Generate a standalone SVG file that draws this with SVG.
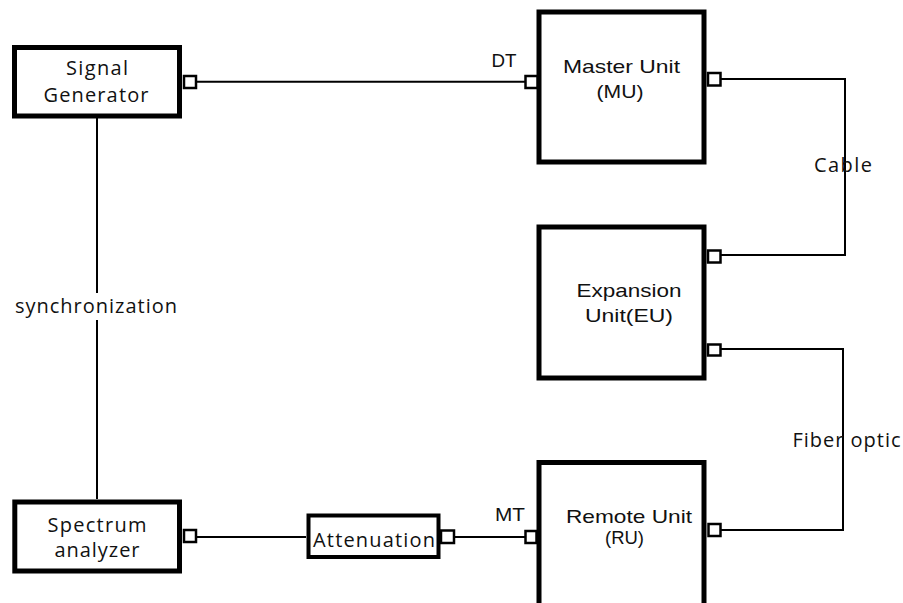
<svg xmlns="http://www.w3.org/2000/svg" width="903" height="603" viewBox="0 0 903 603">
<style>
.box{fill:#fff;stroke:#000;stroke-width:5}
.att{fill:#fff;stroke:#000;stroke-width:4}
.port{fill:#fff;stroke:#000;stroke-width:2.5}
.wire{fill:none;stroke:#000;stroke-width:2}
.c{font-family:"Open Sans","Liberation Sans",sans-serif;font-size:20px;fill:#111}
.a{font-family:"Liberation Sans",Arial,sans-serif;font-size:18.5px;fill:#111}
</style>
<rect width="903" height="603" fill="#fff"/>
<g id="connectors">
<path class="wire" d="M196 81.7H525"/>
<path class="wire" d="M720 79H845V255H721"/>
<path class="wire" d="M721 349H843V530H721"/>
<path class="wire" d="M97 118V293M97 320V499"/>
<path class="wire" d="M196 537H306"/>
<path class="wire" d="M455 537H525"/>
</g>
<g id="signal-generator">
<rect class="box" x="14.5" y="47.5" width="165" height="68.5"/>
<rect class="port" x="184" y="76" width="12" height="12"/>
<text class="c" x="97" y="75" text-anchor="middle" textLength="62" lengthAdjust="spacing">Signal</text>
<text class="c" x="96" y="101.5" text-anchor="middle" textLength="105" lengthAdjust="spacing">Generator</text>
</g>
<g id="master-unit">
<rect class="box" x="539" y="12" width="165" height="150"/>
<rect class="port" x="525.5" y="76" width="12" height="12"/>
<rect class="port" x="708" y="73" width="12.5" height="12.5"/>
<text class="a" x="621.5" y="73" text-anchor="middle" textLength="117" lengthAdjust="spacingAndGlyphs">Master Unit</text>
<text class="a" x="620" y="98.3" text-anchor="middle" textLength="47" lengthAdjust="spacingAndGlyphs">(MU)</text>
</g>
<g id="expansion-unit">
<rect class="box" x="539" y="227" width="165" height="151"/>
<rect class="port" x="708" y="250.5" width="12.5" height="12"/>
<rect class="port" x="708" y="344.5" width="12.5" height="11"/>
<text class="a" x="629" y="296.7" text-anchor="middle" textLength="105" lengthAdjust="spacingAndGlyphs">Expansion</text>
<text class="a" x="629" y="321.7" text-anchor="middle" textLength="88" lengthAdjust="spacingAndGlyphs">Unit(EU)</text>
</g>
<g id="remote-unit">
<rect class="box" x="539" y="462.5" width="165" height="150"/>
<rect class="port" x="525.5" y="531" width="11" height="12"/>
<rect class="port" x="708.5" y="524" width="12" height="12"/>
<text class="a" x="629" y="522.7" text-anchor="middle" textLength="126" lengthAdjust="spacingAndGlyphs">Remote Unit</text>
<text class="a" x="624.5" y="544.3" text-anchor="middle" textLength="39" lengthAdjust="spacingAndGlyphs">(RU)</text>
</g>
<g id="spectrum-analyzer">
<rect class="box" x="14.8" y="502" width="164.7" height="69"/>
<rect class="port" x="184" y="530" width="12" height="12"/>
<text class="c" x="97" y="531.7" text-anchor="middle" textLength="99" lengthAdjust="spacing">Spectrum</text>
<text class="c" x="97" y="556.7" text-anchor="middle" textLength="85" lengthAdjust="spacing">analyzer</text>
</g>
<g id="attenuation">
<rect class="att" x="308.5" y="515.5" width="130" height="41.5"/>
<rect class="port" x="441" y="530.5" width="13" height="12.5"/>
<text class="c" x="374" y="546.7" text-anchor="middle" textLength="122" lengthAdjust="spacing">Attenuation</text>
</g>
<g id="labels">
<text class="a" x="504" y="66.7" text-anchor="middle" textLength="25" lengthAdjust="spacingAndGlyphs">DT</text>
<text class="a" x="510" y="521" text-anchor="middle" textLength="30" lengthAdjust="spacingAndGlyphs">MT</text>
<text class="c" x="96" y="313" text-anchor="middle" textLength="162" lengthAdjust="spacing">synchronization</text>
<text class="c" x="843" y="171.7" text-anchor="middle" textLength="58" lengthAdjust="spacing">Cable</text>
<text class="c" x="846.5" y="446.7" text-anchor="middle" textLength="108" lengthAdjust="spacing">Fiber optic</text>
</g>
</svg>
